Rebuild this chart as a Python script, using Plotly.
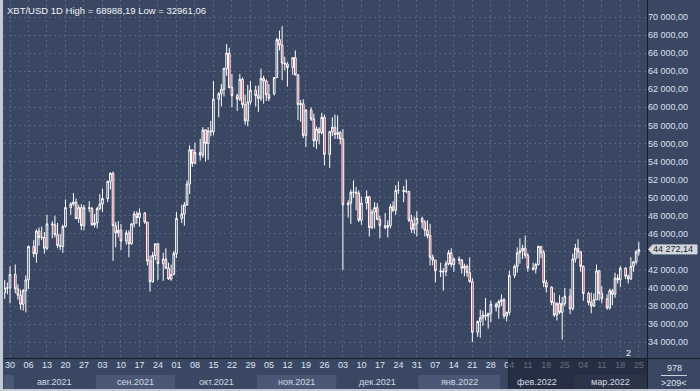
import pandas as pd
import plotly.graph_objects as go

# ---------------- data ----------------
# Daily XBT/USD bars, 2021-07-28 .. 2022-03-25 (no Saturday bars; Friday bar spans the weekend start)
first_day, last_day = "2021-07-28", "2022-03-25"
dates = [d for d in pd.date_range(first_day, last_day, freq="D") if d.weekday() != 5]

open_ = [
    39500, 40000, 40000,
    41500, 39900, 39200, 38200, 39700, 40900,
    44600, 43800, 46300, 45600, 45600, 44400,
    47100, 47000, 45900, 44700, 44600, 46800,
    48900, 49300, 49500, 47700, 48900, 46900,
    48900, 48800, 47000, 47200, 48800, 49300,
    49900, 51800, 52700, 46900, 46100, 46400,
    45200, 46100, 44900, 47100, 48200, 47800,
    48300, 47300, 43000, 40700, 43600, 44900,
    42700, 43200, 42200, 41000, 41500, 43800,
    47700, 48200, 49200, 51500, 55300, 53800,
    55000, 54700, 57500, 56000, 57400, 57300,
    60900, 61500, 62000, 64300, 66000, 62200,
    61300, 60900, 63100, 60300, 58500, 60600,
    61900, 61300, 61000, 63200, 62900, 61400,
    61500, 63300, 67500, 66900, 64900, 64800,
    64400, 65500, 63600, 60300, 60400, 56900,
    59700, 58700, 56300, 57600, 57200, 58900,
    54800, 57300, 57800, 57000, 57200, 56500,
    49200, 49400, 50600, 50600, 50500, 47500,
    49400, 50100, 46700, 48400, 48900, 47600,
    46900, 46700, 46900, 49000, 48600, 50800,
    50800, 50700, 50700, 47500, 46500, 47100,
    47700, 47300, 46400, 45800, 43400, 43100,
    41900, 41800, 41800, 42700, 43900, 42600,
    43200, 43100, 42200, 42400, 41700, 40700,
    35100, 36300, 36700, 37000, 36900, 37200,
    38200, 37900, 38500, 38700, 36900, 37300,
    41400, 42400, 43900, 44100, 44400, 43600,
    42200, 42100, 42600, 44600, 43900, 40600,
    40100, 38400, 37000, 38300, 37300, 38300,
    39100, 37700, 43200, 44400, 44000, 42400,
    39400, 38400, 38000, 38700, 41900, 39400,
    38800, 37800, 39700, 39300, 41100, 40900,
    42200, 41300, 41000, 42400, 42900, 44000,
]
high = [
    40900, 40600, 42400,
    42600, 40400, 39800, 39900, 41400, 44700,
    45300, 46500, 46700, 46800, 46200, 48100,
    47400, 48000, 47200, 46000, 47000, 49800,
    49500, 50500, 49900, 49200, 49300, 49200,
    49600, 49000, 48200, 49000, 50400, 51000,
    51900, 52800, 52900, 47300, 47400, 47100,
    46400, 46400, 47200, 48500, 48500, 48800,
    48400, 47300, 43600, 44000, 44900, 45000,
    43900, 44400, 42800, 42600, 44100, 48400,
    49200, 49500, 51900, 55800, 55300, 56100,
    56500, 57800, 57600, 57800, 58500, 62900,
    61700, 62600, 64400, 67000, 66600, 63700,
    61500, 63700, 63300, 61400, 62500, 62900,
    62400, 62400, 64300, 63500, 63100, 62600,
    63300, 67700, 68500, 68988.19, 65600, 65000,
    65500, 66300, 63600, 60800, 60900, 59800,
    60000, 59300, 57900, 57800, 59400, 59200,
    57400, 58900, 59200, 59100, 57400, 57600,
    49700, 50900, 51900, 51200, 50800, 50100,
    50800, 50200, 48700, 49500, 49400, 48000,
    48300, 47500, 49300, 49600, 51400, 51800,
    51300, 52000, 50700, 48100, 47900, 48500,
    47900, 47500, 47500, 47100, 43700, 43100,
    42800, 42200, 43000, 44200, 44400, 43400,
    43500, 43200, 42700, 42600, 43400, 41100,
    36400, 37600, 37500, 38900, 37200, 38600,
    38400, 38700, 39300, 38900, 37400, 41900,
    42600, 44500, 45500, 44800, 45800, 43900,
    42800, 42800, 44700, 44600, 44200, 40900,
    40200, 39500, 38400, 39200, 39000, 40000,
    39900, 43800, 44900, 45400, 44100, 42500,
    39600, 39500, 39400, 42600, 42000, 40200,
    39300, 39900, 39900, 41700, 41500, 42400,
    42300, 41500, 43400, 43000, 44200, 45100,
]
low = [
    38800, 39300, 38300,
    39400, 38700, 37600, 37500, 37300, 39900,
    43400, 42800, 44700, 45300, 43800, 44200,
    45500, 45600, 44400, 44200, 43900, 46700,
    48100, 49100, 47600, 47200, 46400, 46400,
    48400, 46900, 46700, 46600, 48600, 48400,
    49500, 50900, 43000, 44500, 45600, 44200,
    44800, 43400, 44800, 46700, 47100, 46800,
    47100, 42500, 39600, 40600, 43100, 40900,
    40800, 42100, 40900, 40800, 41400, 43300,
    47200, 46900, 49100, 50400, 53400, 53700,
    54100, 54400, 54000, 54200, 56800, 56900,
    58900, 60100, 61200, 63500, 62100, 60000,
    59600, 60700, 59900, 58100, 57900, 60300,
    60100, 59500, 60700, 60400, 60700, 60700,
    61300, 63300, 66300, 63000, 64100, 62300,
    63600, 63500, 58600, 58400, 56600, 55600,
    58500, 55600, 55400, 55900, 57000, 53600,
    53300, 56800, 56500, 56500, 55900, 42000,
    47800, 47100, 50000, 48600, 47300, 47000,
    48700, 45700, 46500, 46600, 47500, 45500,
    46500, 45600, 46600, 48400, 48100, 50400,
    49500, 50500, 47300, 46100, 46000, 45700,
    46600, 45700, 45500, 42500, 42500, 40600,
    41200, 39700, 41300, 42500, 42300, 41800,
    42600, 41600, 41300, 41200, 40600, 34000,
    34600, 34500, 35800, 36400, 35500, 36200,
    37400, 36600, 38000, 36600, 36300, 37000,
    41100, 41700, 42700, 43200, 43300, 41800,
    41900, 41600, 42500, 43300, 40100, 39500,
    38100, 36800, 36400, 37100, 34300, 38000,
    37100, 37500, 42800, 43300, 41800, 38600,
    38100, 37200, 37900, 38700, 38600, 38300,
    37600, 37600, 38100, 38900, 40500, 40100,
    41000, 40500, 40900, 41800, 42600, 43600,
]
close = [
    40000, 40000, 41500,
    39900, 39200, 38200, 39700, 40900, 44600,
    43800, 46300, 45600, 45600, 44400, 47100,
    47000, 45900, 44700, 44600, 46800, 48900,
    49300, 49500, 47700, 48900, 46900, 48900,
    48800, 47000, 47200, 48800, 49300, 49900,
    51800, 52700, 46900, 46100, 46400, 45200,
    46100, 44900, 47100, 48200, 47800, 48300,
    47300, 43000, 40700, 43600, 44900, 42700,
    43200, 42200, 41000, 41500, 43800, 47700,
    48200, 49200, 51500, 55300, 53800, 55000,
    54700, 57500, 56000, 57400, 57300, 60900,
    61500, 62000, 64300, 66000, 62200, 61300,
    60900, 63100, 60300, 58500, 60600, 61900,
    61300, 61000, 63200, 62900, 61400, 61000,
    63300, 67500, 66900, 64900, 64800, 64400,
    65500, 63600, 60300, 60400, 56900, 59700,
    58700, 56300, 57600, 57200, 58900, 54800,
    57300, 57800, 57000, 57200, 56500, 49200,
    49400, 50600, 50600, 50500, 47500, 49400,
    50100, 46700, 48400, 48900, 47600, 46900,
    46700, 46900, 49000, 48600, 50800, 50800,
    50700, 50700, 47500, 46500, 47100, 47700,
    47300, 46400, 45800, 43400, 43100, 41900,
    41800, 41800, 42700, 43900, 42600, 43200,
    43100, 42200, 42400, 41700, 40700, 35100,
    36300, 36700, 37000, 36900, 37200, 38200,
    37900, 38500, 38700, 36900, 37300, 41400,
    42400, 43900, 44100, 44400, 43600, 42200,
    42100, 42600, 44600, 43900, 40600, 40100,
    38400, 37000, 38300, 37300, 38300, 39100,
    37700, 43200, 44400, 44000, 42400, 39400,
    38400, 38000, 38700, 41900, 39400, 38800,
    37800, 39700, 39300, 41100, 40900, 42200,
    41300, 41000, 42400, 42900, 44000, 44272.14,
]

price_ticks = list(range(34000, 70001, 2000))
hidden_price_tick = 44000          # covered by the last-price tag in the reference
month_names = ["июл.2021", "авг.2021", "сен.2021", "окт.2021", "ноя.2021",
               "дек.2021", "янв.2022", "фев.2022", "мар.2022"]
month_starts = ["2021-07-01", "2021-08-01", "2021-09-01", "2021-10-01", "2021-11-01",
                "2021-12-01", "2022-01-01", "2022-02-01", "2022-03-01", "2022-04-01"]
title_text = "XBT/USD 1D High = 68988,19 Low = 32961,06"
last_price = 44272.14
last_price_text = "44 272,14"
counter_top, counter_bottom = "978", "&gt;209&lt;"
marker_text = "2"

# ---------------- style ----------------
BG = "#3a4763"
BAND = "#4a5875"
GRID = "#56647f"
RED = "#c4304f"
TXT = "#dfe6f0"
FONT = "Liberation Sans, Arial, sans-serif"

W, H = 700, 391
ML, MR, MT, MB = 4, 53, 0, 33
PW, PH = W - ML - MR, H - MT - MB

x_start = pd.Timestamp("2021-07-27 17:30")
x_end = pd.Timestamp("2022-03-28 02:30")
y_range = [32251, 71882]

def px_x(p):   # pixel -> paper x
    return (p - ML) / PW

def px_y(p):   # pixel -> paper y
    return 1 - (p - MT) / PH

def val_y(v):  # price -> paper y (same linear scale as the y axis)
    return (v - y_range[0]) / (y_range[1] - y_range[0])

def price_label(v):
    return f"{v:,.2f}".replace(",", " ").replace(".", ",")

fig = go.Figure()
fig.add_trace(go.Candlestick(
    x=dates, open=open_, high=high, low=low, close=close,
    increasing=dict(line=dict(color="#ffffff", width=1), fillcolor=BG),
    decreasing=dict(line=dict(color="#ffffff", width=1), fillcolor=RED),
    whiskerwidth=0, hoverinfo="skip", showlegend=False,
))

fridays = [d for d in dates if d.weekday() == 4]
fig.update_xaxes(
    type="date", range=[x_start, x_end], rangeslider_visible=False,
    tickmode="array", tickvals=fridays, ticktext=[d.strftime("%d") for d in fridays],
    showgrid=True, gridcolor=GRID, griddash="2px,3px", gridwidth=1,
    ticks="", showline=False, zeroline=False,
    tickfont=dict(family=FONT, size=9, color=TXT),
)
fig.update_yaxes(
    side="right", range=y_range, tickmode="array", tickvals=price_ticks,
    ticktext=["" if v == hidden_price_tick else price_label(v) for v in price_ticks],
    showgrid=True, gridcolor=GRID, griddash="2px,3px",
    gridwidth=1, ticks="", showline=False, zeroline=False,
    tickfont=dict(family=FONT, size=9, color="#d8e0ec"),
)

shapes = []
annotations = []

def label(x, y, text, color=TXT, xref="paper", yref="paper", xanchor="center", size=9):
    annotations.append(dict(x=x, y=y, xref=xref, yref=yref, text=text, showarrow=False,
                            xanchor=xanchor, yanchor="middle",
                            font=dict(family=FONT, size=size, color=color)))

# month bands
y_band0, y_band1 = px_y(389), px_y(375)
half = pd.Timedelta(hours=12)
for i, name in enumerate(month_names):
    a = max(pd.Timestamp(month_starts[i]) - half, x_start)
    b = min(pd.Timestamp(month_starts[i + 1]) - half, x_end)
    if b <= a:
        continue
    if i % 2 == 0:
        shapes.append(dict(type="rect", xref="x", yref="paper", x0=a, x1=b,
                           y0=y_band0, y1=y_band1, fillcolor=BAND, line_width=0, layer="below"))
    if (b - a) > pd.Timedelta(days=10):
        label(a + (b - a) / 2, px_y(382), name, color="#d4dae4", xref="x")

# dimmed region on the axis (Feb-Mar)
dim_start = pd.Timestamp("2022-02-03 15:00")
shapes.append(dict(type="rect", xref="x", yref="paper", x0=dim_start, x1=x_end,
                   y0=y_band0, y1=0, fillcolor="rgba(24,30,46,0.62)", line_width=0, layer="above"))
shapes.append(dict(type="line", xref="x", yref="paper", x0=dim_start, x1=dim_start,
                   y0=y_band0, y1=0, line=dict(color="#20283a", width=1), layer="above"))

# frame lines
shapes.append(dict(type="line", xref="paper", yref="paper", x0=px_x(4), x1=px_x(700),
                   y0=px_y(358.5), y1=px_y(358.5), line=dict(color="#161c28", width=1), layer="above"))
shapes.append(dict(type="line", xref="paper", yref="paper", x0=px_x(647.5), x1=px_x(647.5),
                   y0=px_y(389), y1=px_y(0), line=dict(color="#161c28", width=1), layer="above"))
# light outer border (left & bottom)
shapes.append(dict(type="rect", xref="paper", yref="paper", x0=px_x(0), x1=px_x(3),
                   y0=px_y(391), y1=px_y(0), fillcolor="#c3cad4", line_width=0, layer="above"))
shapes.append(dict(type="rect", xref="paper", yref="paper", x0=px_x(0), x1=px_x(700),
                   y0=px_y(391), y1=px_y(389), fillcolor="#c3cad4", line_width=0, layer="above"))

# last price tag
yc = val_y(last_price)
hh = 4.5 / PH
tip, bx0, bx1 = px_x(648.5), px_x(652.5), px_x(697)
shapes.append(dict(type="path", xref="paper", yref="paper",
                   path=f"M {tip},{yc} L {bx0},{yc + hh} L {bx1},{yc + hh} "
                        f"L {bx1},{yc - hh} L {bx0},{yc - hh} Z",
                   fillcolor="#d3d7dd", line=dict(color="#d3d7dd", width=1), layer="above"))
label(px_x(673), yc, last_price_text, color="#1c2232")

# counter box
shapes.append(dict(type="line", xref="paper", yref="paper", x0=px_x(661), x1=px_x(687),
                   y0=px_y(375.5), y1=px_y(375.5), line=dict(color="#c8d0dc", width=1)))
label(px_x(674), px_y(367.5), counter_top)
label(px_x(674), px_y(383), counter_bottom)

# title & marker
label(px_x(5), px_y(10), title_text, color="#f0f3f7", xanchor="left", size=9.5)
label(px_x(628.5), px_y(352.5), marker_text, color="#f0f3f7")

fig.update_layout(
    width=W, height=H, margin=dict(l=ML, r=MR, t=MT, b=MB, pad=0),
    paper_bgcolor=BG, plot_bgcolor=BG, boxgap=0.1,
    font=dict(family=FONT, size=9, color=TXT),
    shapes=shapes, annotations=annotations, showlegend=False,
)

fig.write_html("out.html", include_plotlyjs=True, config={"displayModeBar": False},
               post_script="document.body.style.margin='0';document.body.style.background='#3a4763';")
